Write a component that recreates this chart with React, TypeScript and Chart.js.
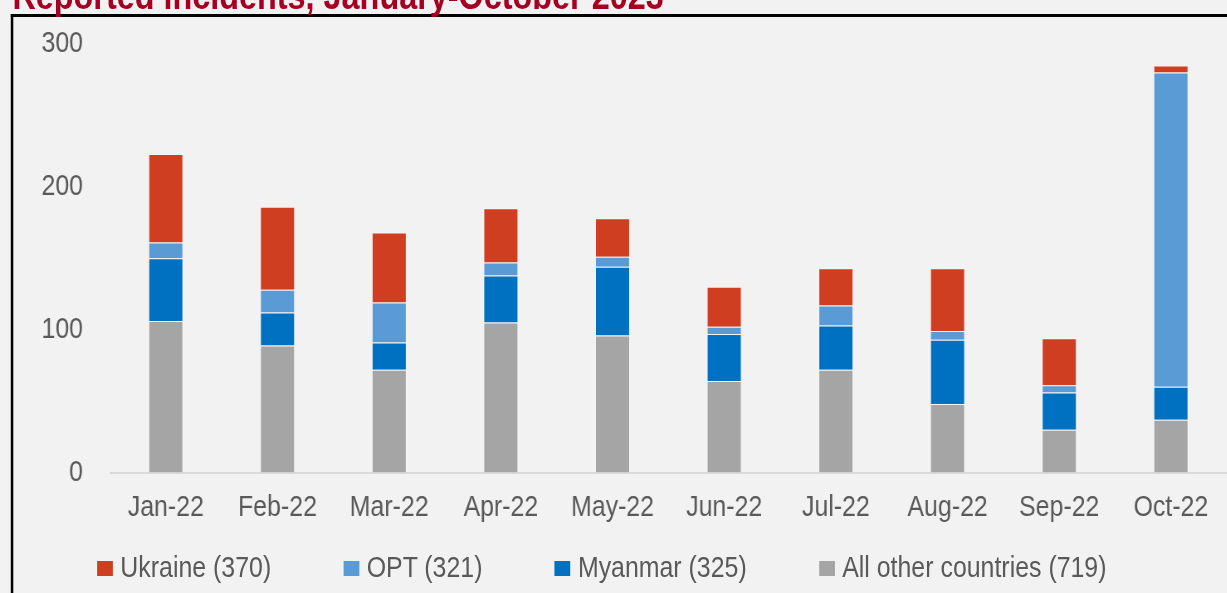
import React, { useEffect, useRef } from "react";
import { Chart, registerables } from "chart.js";

Chart.register(...registerables);

// ---- data ----
const categories = ["Jan-22", "Feb-22", "Mar-22", "Apr-22", "May-22", "Jun-22", "Jul-22", "Aug-22", "Sep-22", "Oct-22"];
const ukraine = [62, 58, 49, 38, 27, 28, 26, 44, 33, 5];
const opt = [11, 16, 28, 9, 7, 5, 14, 6, 5, 220];
const myanmar = [44, 23, 19, 33, 48, 33, 31, 45, 26, 23];
const otherCountries = [106, 89, 72, 105, 96, 64, 72, 48, 30, 37];
const yTicks = [0, 100, 200, 300];
const titleText = "Reported incidents, January-October 2023";

const sum = (a: number[]) => a.reduce((p, c) => p + c, 0);

// stacking order: first = bottom
const series = [
  { name: "All other countries", values: otherCountries, color: "#a5a5a5" },
  { name: "Myanmar", values: myanmar, color: "#0070c0" },
  { name: "OPT", values: opt, color: "#5b9bd5" },
  { name: "Ukraine", values: ukraine, color: "#cf3e20" },
];
const legendOrder = ["Ukraine", "OPT", "Myanmar", "All other countries"];

// ---- layout ----
const SQUISH = 0.83;
const VW = 1478;
const H = 593;
const FONT = "'Liberation Sans', Arial, Helvetica, sans-serif";
const TEXT = "#595959";

export default function App() {
  const ref = useRef<HTMLCanvasElement | null>(null);

  useEffect(() => {
    document.body.style.margin = "0";
    document.body.style.background = "#f2f2f2";
    const chart = new Chart(ref.current as HTMLCanvasElement, {
      type: "bar",
      data: {
        labels: categories,
        datasets: series.map((s) => ({
          label: s.name,
          data: s.values,
          backgroundColor: s.color,
          borderColor: "rgba(255,255,255,0.3)",
          borderWidth: 1,
          barPercentage: 0.312,
          categoryPercentage: 1,
        })),
      },
      options: {
        responsive: false,
        animation: false,
        devicePixelRatio: 1,
        layout: { padding: { top: 44, bottom: 50.5, left: 0, right: 0 } },
        plugins: {
          legend: { display: false },
          tooltip: { enabled: false },
          title: { display: false },
        },
        scales: {
          x: {
            stacked: true,
            grid: { display: false, drawTicks: false },
            border: { display: true, color: "#d9d9d9", width: 2 },
            ticks: {
              color: TEXT,
              font: { family: FONT, size: 30 },
              padding: 17,
              maxRotation: 0,
              autoSkip: false,
            },
          },
          y: {
            stacked: true,
            min: 0,
            max: 300,
            afterBuildTicks: (s: any) => {
              s.ticks = yTicks.map((v) => ({ value: v }));
            },
            afterFit: (s: any) => {
              s.width = 132.5;
            },
            grid: { display: false, drawTicks: true, tickLength: 32.5 },
            border: { display: false },
            ticks: {
              color: TEXT,
              font: { family: FONT, size: 30 },
              padding: 0,
            },
          },
        },
      },
    });
    return () => chart.destroy();
  }, []);

  const legendItems = legendOrder.map((n) => series.find((s) => s.name === n)!);

  return (
    <div style={{ position: "relative", width: 1227, height: H, overflow: "hidden", background: "#f2f2f2" }}>
      <div
        style={{
          position: "absolute",
          left: 0,
          top: 0,
          width: VW,
          height: H,
          transform: `scaleX(${SQUISH})`,
          transformOrigin: "0 0",
        }}
      >
        <div
          style={{
            position: "absolute",
            left: 13,
            top: 14,
            width: 3000,
            height: 2000,
            borderLeft: "3px solid #000",
            borderTop: "3px solid #000",
            boxSizing: "border-box",
          }}
        />
        <div
          style={{
            position: "absolute",
            left: 15,
            top: -24,
            font: `bold 39px ${FONT}`,
            lineHeight: "39px",
            color: "#a50021",
            whiteSpace: "nowrap",
          }}
        >
          {titleText}
        </div>
        <canvas ref={ref} width={VW} height={H} style={{ position: "absolute", left: 0, top: 0 }} />
        <div
          style={{
            position: "absolute",
            left: 117,
            top: 552,
            display: "flex",
            gap: 87,
            whiteSpace: "nowrap",
          }}
        >
          {legendItems.map((s) => (
            <div key={s.name} style={{ display: "flex", alignItems: "flex-start" }}>
              <div style={{ width: 19, height: 15, marginTop: 9, marginRight: 9, background: s.color }} />
              <span style={{ font: `30px ${FONT}`, lineHeight: "30px", color: TEXT }}>
                {`${s.name} (${sum(s.values)})`}
              </span>
            </div>
          ))}
        </div>
      </div>
    </div>
  );
}
